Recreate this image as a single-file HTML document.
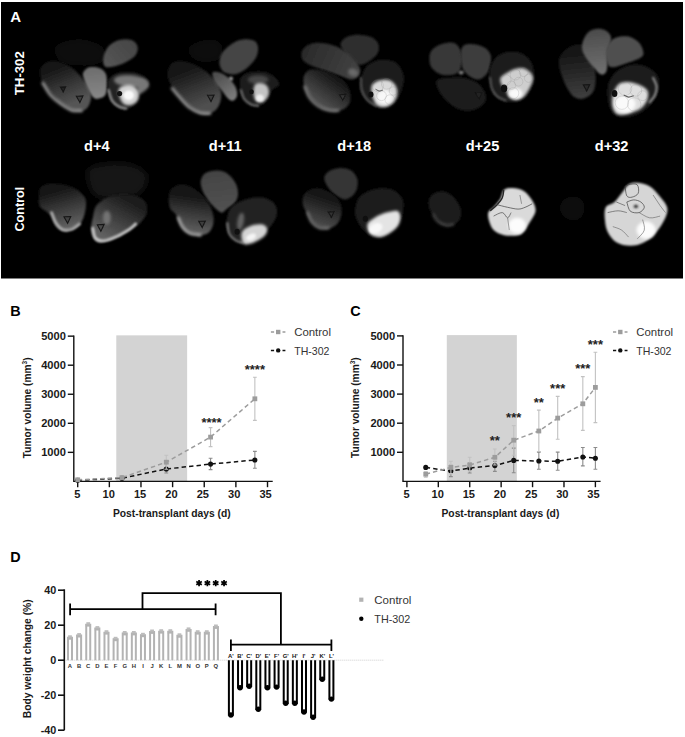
<!DOCTYPE html><html><head><meta charset="utf-8"><title>Figure</title><style>html,body{margin:0;padding:0;background:#fff;width:685px;height:737px;overflow:hidden}svg{display:block;font-family:"Liberation Sans",sans-serif}</style></head><body>
<svg width="685" height="737" viewBox="0 0 685 737">
<rect width="685" height="737" fill="#fff"/>
<rect x="1" y="2" width="682" height="276.5" fill="#000"/>
<defs><filter id="b0" x="-50%" y="-50%" width="200%" height="200%"><feGaussianBlur stdDeviation="0.45"/></filter><filter id="b1" x="-50%" y="-50%" width="200%" height="200%"><feGaussianBlur stdDeviation="0.8"/></filter><filter id="b2" x="-50%" y="-50%" width="200%" height="200%"><feGaussianBlur stdDeviation="1.6"/></filter><filter id="b3" x="-50%" y="-50%" width="200%" height="200%"><feGaussianBlur stdDeviation="3.2"/></filter><linearGradient id="lg1" gradientUnits="userSpaceOnUse" x1="133.1" y1="42.8" x2="108.6" y2="63.8"><stop offset="0" stop-color="#464646"/><stop offset="1" stop-color="#545454"/></linearGradient><linearGradient id="lg2" gradientUnits="userSpaceOnUse" x1="56.0" y1="69.1" x2="70.0" y2="104.1"><stop offset="0" stop-color="#181818"/><stop offset="1" stop-color="#545454"/></linearGradient><linearGradient id="lg3" gradientUnits="userSpaceOnUse" x1="94.6" y1="69.1" x2="96.3" y2="97.1"><stop offset="0" stop-color="#6e6e6e"/><stop offset="1" stop-color="#878787"/></linearGradient><linearGradient id="lg4" gradientUnits="userSpaceOnUse" x1="186.3" y1="70.8" x2="200.3" y2="107.6"><stop offset="0" stop-color="#181818"/><stop offset="1" stop-color="#505050"/></linearGradient><linearGradient id="lg5" gradientUnits="userSpaceOnUse" x1="219.6" y1="74.3" x2="233.6" y2="98.8"><stop offset="0" stop-color="#505050"/><stop offset="1" stop-color="#7d7d7d"/></linearGradient><linearGradient id="lg6" gradientUnits="userSpaceOnUse" x1="307.5" y1="51.5" x2="356.6" y2="74.3"><stop offset="0" stop-color="#2c2c2c"/><stop offset="1" stop-color="#424242"/></linearGradient><linearGradient id="lg7" gradientUnits="userSpaceOnUse" x1="335.6" y1="77.8" x2="316.3" y2="104.1"><stop offset="0" stop-color="#161616"/><stop offset="1" stop-color="#545454"/></linearGradient><linearGradient id="lg8" gradientUnits="userSpaceOnUse" x1="576.0" y1="48.0" x2="581.3" y2="97.1"><stop offset="0" stop-color="#121212"/><stop offset="1" stop-color="#3e3e3e"/></linearGradient><linearGradient id="lg9" gradientUnits="userSpaceOnUse" x1="597.0" y1="30.5" x2="600.6" y2="72.6"><stop offset="0" stop-color="#4c4c4c"/><stop offset="1" stop-color="#707070"/></linearGradient><linearGradient id="lg10" gradientUnits="userSpaceOnUse" x1="52.5" y1="191.5" x2="63.0" y2="228.3"><stop offset="0" stop-color="#161616"/><stop offset="1" stop-color="#606060"/></linearGradient><linearGradient id="lg11" gradientUnits="userSpaceOnUse" x1="126.1" y1="198.5" x2="105.1" y2="237.1"><stop offset="0" stop-color="#1c1c1c"/><stop offset="1" stop-color="#606060"/></linearGradient><linearGradient id="lg12" gradientUnits="userSpaceOnUse" x1="191.5" y1="195.0" x2="186.3" y2="231.8"><stop offset="0" stop-color="#141414"/><stop offset="1" stop-color="#606060"/></linearGradient><linearGradient id="lg13" gradientUnits="userSpaceOnUse" x1="217.8" y1="172.3" x2="223.1" y2="210.8"><stop offset="0" stop-color="#444444"/><stop offset="1" stop-color="#525252"/></linearGradient><linearGradient id="lg14" gradientUnits="userSpaceOnUse" x1="325.0" y1="195.0" x2="314.5" y2="226.6"><stop offset="0" stop-color="#121212"/><stop offset="1" stop-color="#505050"/></linearGradient></defs><g><path d="M56.0 46.3 C58.9 42.5 71.2 39.3 78.8 39.3 C86.4 39.3 97.5 42.8 101.6 46.3 C105.7 49.8 105.7 57.1 103.3 60.3 C101.0 63.5 94.6 65.3 87.6 65.6 C80.6 65.8 66.5 65.3 61.3 62.0 C56.0 58.8 53.1 50.1 56.0 46.3Z" fill="#0e0e0e" filter="url(#b3)"/>
<path d="M103.3 57.7 C103.9 54.3 106.0 49.2 108.6 46.3 C111.2 43.4 115.3 41.2 119.1 40.1 C122.9 39.1 128.3 39.1 131.4 40.1 C134.4 41.2 136.8 43.8 137.5 46.3 C138.2 48.8 137.6 52.4 135.7 55.0 C133.8 57.7 129.8 60.1 126.1 62.0 C122.5 63.9 117.3 65.7 113.8 66.4 C110.3 67.2 106.8 67.9 105.1 66.4 C103.3 65.0 102.7 61.0 103.3 57.7Z" fill="url(#lg1)" filter="url(#b1)"/>
<path d="M40.3 69.1 C41.1 66.9 42.9 64.2 45.5 62.9 C48.1 61.6 52.2 60.7 56.0 61.2 C59.8 61.6 64.5 63.4 68.3 65.6 C72.1 67.7 75.6 70.8 78.8 74.3 C82.0 77.8 85.5 82.8 87.6 86.6 C89.6 90.4 91.1 93.6 91.1 97.1 C91.1 100.6 89.3 105.3 87.6 107.6 C85.8 109.9 83.5 110.8 80.6 111.1 C77.6 111.4 73.5 110.8 70.0 109.3 C66.5 107.9 62.7 105.0 59.5 102.3 C56.3 99.7 53.4 96.5 50.8 93.6 C48.1 90.7 45.5 87.7 43.8 84.8 C42.0 81.9 40.8 78.7 40.3 76.1 C39.7 73.4 39.4 71.2 40.3 69.1Z" fill="url(#lg2)" filter="url(#b1)"/>
<path d="M42.9 83.1 C44.2 85.1 47.7 91.8 50.8 95.3 C53.8 98.8 57.8 101.6 61.3 104.1 C64.8 106.6 68.4 109.1 71.8 110.2 C75.1 111.3 79.8 110.7 81.4 110.7" fill="none" stroke="#969696" stroke-width="3.0" stroke-linecap="round" filter="url(#b2)"/>
<path d="M76.4 96.2 L83.0 95.9 L79.9 102.5 Z" fill="#3c3c3c" stroke="#161616" stroke-width="1.1" filter="url(#b0)"/>
<path d="M60.4 87.1 L65.6 86.9 L63.2 92.1 Z" fill="#242424" stroke="#161616" stroke-width="1.1" filter="url(#b0)"/>
<path d="M83.2 72.6 C84.1 70.5 86.5 68.0 89.3 67.3 C92.1 66.6 97.0 67.0 99.8 68.2 C102.6 69.3 104.8 71.2 106.0 74.3 C107.1 77.4 107.0 83.1 106.8 86.6 C106.7 90.1 106.5 93.3 105.1 95.3 C103.6 97.4 100.1 98.5 98.1 98.8 C96.0 99.1 94.6 98.8 92.8 97.1 C91.1 95.3 89.0 91.2 87.6 88.3 C86.1 85.4 84.8 82.2 84.1 79.6 C83.3 76.9 82.3 74.6 83.2 72.6Z" fill="url(#lg3)" filter="url(#b1)"/>
<path d="M107.7 83.1 C108.0 79.3 109.9 77.8 112.1 76.1 C114.3 74.3 117.3 73.1 120.8 72.6 C124.3 72.0 129.3 72.0 133.1 72.6 C136.9 73.1 141.0 74.6 143.6 76.1 C146.2 77.5 148.3 79.6 148.9 81.3 C149.5 83.1 148.6 85.1 147.1 86.6 C145.7 88.0 141.6 88.0 140.1 90.1 C138.7 92.1 139.5 96.2 138.4 98.8 C137.2 101.5 135.4 104.1 133.1 105.8 C130.8 107.6 127.3 109.3 124.3 109.3 C121.4 109.3 117.9 107.6 115.6 105.8 C113.3 104.1 111.6 102.6 110.3 98.8 C109.0 95.0 107.4 86.9 107.7 83.1Z" fill="#242424" filter="url(#b1)"/>
<ellipse cx="130.5" cy="81.3" rx="16.6" ry="6.1" transform="rotate(5 130.5 81.3)" fill="#787878" filter="url(#b2)"/>
<path d="M108.6 90.1 C109.2 91.8 110.3 97.8 112.1 100.6 C113.8 103.4 116.8 105.4 119.1 106.7 C121.4 108.0 124.9 108.2 126.1 108.5" fill="none" stroke="#8c8c8c" stroke-width="2.5" stroke-linecap="round" filter="url(#b1)"/>
<path d="M138.4 80.4 C139.8 78.4 145.4 80.3 147.1 81.3 C148.9 82.3 149.5 84.8 148.9 86.6 C148.3 88.3 145.4 90.7 143.6 91.8 C141.9 93.0 139.2 95.5 138.4 93.6 C137.5 91.7 136.9 82.5 138.4 80.4Z" fill="#787878" filter="url(#b2)"/>
<path d="M119.1 88.3 C120.2 86.5 123.6 85.5 126.1 85.2 C128.6 84.9 131.9 85.3 134.0 86.6 C136.1 87.8 138.1 90.4 138.7 92.7 C139.3 95.0 138.7 98.5 137.5 100.6 C136.3 102.6 133.7 104.4 131.4 105.0 C129.0 105.5 125.5 105.2 123.5 103.7 C121.5 102.3 120.2 98.8 119.4 96.2 C118.7 93.6 118.0 90.2 119.1 88.3Z" fill="#d2d2d2" filter="url(#b2)"/>
<ellipse cx="128.7" cy="95.3" rx="5.3" ry="4.9" transform="rotate(0 128.7 95.3)" fill="#fafafa" filter="url(#b1)"/>
<ellipse cx="119.6" cy="93.6" rx="2.6" ry="2.6" transform="rotate(0 119.6 93.6)" fill="#121212"/>
<path d="M189.8 46.3 C192.7 43.4 203.8 39.6 209.1 39.3 C214.3 39.0 219.6 41.3 221.3 44.5 C223.1 47.7 222.5 55.6 219.6 58.5 C216.6 61.5 208.5 62.3 203.8 62.0 C199.1 61.8 193.9 59.4 191.5 56.8 C189.2 54.2 186.9 49.2 189.8 46.3Z" fill="#0c0c0c" filter="url(#b3)"/>
<path d="M219.6 60.3 C220.0 57.7 220.7 54.5 223.1 51.5 C225.4 48.6 230.1 44.8 233.6 42.8 C237.1 40.7 240.6 39.6 244.1 39.3 C247.6 39.0 252.3 39.6 254.6 41.0 C256.9 42.5 258.0 45.1 258.1 48.0 C258.3 51.0 257.5 55.0 255.5 58.5 C253.4 62.0 249.2 66.4 245.8 69.1 C242.5 71.7 238.8 73.7 235.3 74.3 C231.8 74.9 227.3 73.7 224.8 72.6 C222.3 71.4 221.3 69.3 220.4 67.3 C219.6 65.3 219.1 62.9 219.6 60.3Z" fill="#444444" filter="url(#b1)"/>
<path d="M167.9 70.8 C168.6 68.3 169.8 64.5 172.3 62.9 C174.7 61.3 179.0 60.9 182.8 61.2 C186.6 61.5 191.0 62.8 195.0 64.7 C199.1 66.6 203.5 69.2 207.3 72.6 C211.1 75.9 215.5 81.0 217.8 84.8 C220.1 88.6 221.3 91.5 221.3 95.3 C221.3 99.1 219.9 104.5 217.8 107.6 C215.8 110.7 212.3 112.9 209.1 113.7 C205.8 114.6 202.0 114.2 198.5 112.9 C195.0 111.5 191.2 108.5 188.0 105.8 C184.8 103.2 181.9 100.3 179.3 97.1 C176.6 93.9 174.2 89.8 172.3 86.6 C170.4 83.4 168.6 80.4 167.9 77.8 C167.2 75.2 167.2 73.3 167.9 70.8Z" fill="url(#lg4)" filter="url(#b1)"/>
<path d="M172.3 88.3 C173.7 90.1 178.1 95.6 181.0 98.8 C183.9 102.0 186.6 105.3 189.8 107.6 C193.0 109.9 196.9 111.9 200.3 112.9 C203.7 113.8 208.3 113.3 209.9 113.4" fill="none" stroke="#969696" stroke-width="3.0" stroke-linecap="round" filter="url(#b2)"/>
<path d="M207.5 95.3 L214.1 95.0 L211.0 101.6 Z" fill="#3c3c3c" stroke="#161616" stroke-width="1.1" filter="url(#b0)"/>
<path d="M212.6 72.6 C213.4 71.1 216.9 71.7 219.6 72.6 C222.2 73.4 225.7 75.5 228.3 77.8 C231.0 80.1 233.9 83.7 235.3 86.6 C236.8 89.5 237.4 93.0 237.1 95.3 C236.8 97.7 235.0 100.0 233.6 100.6 C232.1 101.2 230.4 100.6 228.3 98.8 C226.3 97.1 223.7 93.0 221.3 90.1 C219.0 87.2 215.8 84.2 214.3 81.3 C212.8 78.4 211.7 74.0 212.6 72.6Z" fill="url(#lg5)" filter="url(#b1)"/>
<ellipse cx="231.0" cy="78.7" rx="2.1" ry="2.1" transform="rotate(0 231.0 78.7)" fill="#969696" filter="url(#b1)"/>
<path d="M239.7 81.3 C240.2 78.1 241.6 75.9 244.1 74.3 C246.6 72.7 250.8 72.0 254.6 71.7 C258.4 71.4 263.4 71.5 266.9 72.6 C270.4 73.6 273.6 75.8 275.6 77.8 C277.7 79.9 279.7 82.8 279.1 84.8 C278.5 86.9 273.9 88.0 272.1 90.1 C270.4 92.1 270.1 94.7 268.6 97.1 C267.2 99.4 265.7 102.6 263.4 104.1 C261.0 105.6 257.2 106.1 254.6 105.8 C252.0 105.6 249.8 104.4 247.6 102.3 C245.4 100.3 242.8 97.1 241.5 93.6 C240.2 90.1 239.3 84.5 239.7 81.3Z" fill="#1e1e1e" filter="url(#b1)"/>
<ellipse cx="258.1" cy="79.6" rx="10.5" ry="4.4" transform="rotate(0 258.1 79.6)" fill="#464646" filter="url(#b2)"/>
<path d="M240.9 90.1 C241.5 91.5 242.4 96.4 244.1 98.8 C245.8 101.2 248.8 103.3 251.1 104.4 C253.4 105.6 256.9 105.6 258.1 105.8" fill="none" stroke="#6e6e6e" stroke-width="2.2" stroke-linecap="round" filter="url(#b1)"/>
<path d="M254.6 85.2 C255.8 83.1 258.7 83.0 260.7 83.1 C262.8 83.2 265.5 84.2 266.9 85.7 C268.2 87.2 268.9 89.8 269.0 91.8 C269.0 93.9 268.4 96.2 267.2 98.0 C266.0 99.7 263.8 101.8 262.0 102.3 C260.2 102.9 257.7 102.5 256.4 101.3 C255.0 100.1 254.0 98.0 253.7 95.3 C253.4 92.6 253.4 87.2 254.6 85.2Z" fill="#c3c3c3" filter="url(#b2)"/>
<ellipse cx="259.9" cy="98.0" rx="3.9" ry="3.5" transform="rotate(0 259.9 98.0)" fill="#eeeeee" filter="url(#b1)"/>
<ellipse cx="251.5" cy="91.8" rx="2.3" ry="2.5" transform="rotate(0 251.5 91.8)" fill="#0f0f0f"/>
<path d="M340.8 42.8 C341.7 40.6 344.6 38.0 347.8 36.6 C351.0 35.3 356.0 34.7 360.1 34.9 C364.2 35.0 369.3 35.9 372.3 37.5 C375.4 39.1 377.6 41.9 378.5 44.5 C379.3 47.2 378.9 50.7 377.6 53.3 C376.3 55.9 373.2 58.4 370.6 60.3 C368.0 62.2 364.5 64.2 361.8 64.7 C359.2 65.1 357.2 64.2 354.8 62.9 C352.5 61.6 349.9 59.0 347.8 56.8 C345.8 54.6 343.7 52.1 342.6 49.8 C341.4 47.4 339.9 45.0 340.8 42.8Z" fill="#2e2e2e" filter="url(#b1)"/>
<path d="M301.4 53.3 C301.8 51.0 303.3 48.0 305.8 46.3 C308.2 44.5 312.2 43.1 316.3 42.8 C320.4 42.5 325.9 43.4 330.3 44.5 C334.7 45.7 338.5 47.2 342.6 49.8 C346.6 52.4 351.9 57.1 354.8 60.3 C357.7 63.5 359.5 66.4 360.1 69.1 C360.7 71.7 359.8 74.3 358.3 76.1 C356.9 77.8 354.2 79.6 351.3 79.6 C348.4 79.6 345.2 77.5 340.8 76.1 C336.4 74.6 330.0 72.6 325.0 70.8 C320.1 69.1 314.7 67.3 311.0 65.6 C307.4 63.8 304.7 62.3 303.1 60.3 C301.5 58.3 300.9 55.6 301.4 53.3Z" fill="url(#lg6)" filter="url(#b1)"/>
<ellipse cx="353.1" cy="72.6" rx="5.3" ry="3.9" transform="rotate(20 353.1 72.6)" fill="#696969" filter="url(#b2)"/>
<path d="M304.0 76.1 C304.9 73.6 306.4 71.0 309.3 69.9 C312.2 68.9 317.4 69.2 321.5 69.9 C325.6 70.7 330.0 72.4 333.8 74.3 C337.6 76.2 341.7 78.7 344.3 81.3 C346.9 83.9 348.5 86.9 349.6 90.1 C350.6 93.3 351.0 97.7 350.4 100.6 C349.9 103.5 348.3 105.8 346.1 107.6 C343.9 109.3 340.8 110.8 337.3 111.1 C333.8 111.4 328.8 110.8 325.0 109.3 C321.2 107.9 317.4 105.0 314.5 102.3 C311.6 99.7 309.3 96.5 307.5 93.6 C305.8 90.7 304.6 87.7 304.0 84.8 C303.4 81.9 303.1 78.5 304.0 76.1Z" fill="url(#lg7)" filter="url(#b1)"/>
<path d="M304.9 86.6 C305.6 88.3 307.1 93.9 309.3 97.1 C311.5 100.3 314.8 103.7 318.0 105.8 C321.2 108.0 325.2 109.4 328.5 110.2 C331.9 111.0 336.6 110.7 338.2 110.7" fill="none" stroke="#7d7d7d" stroke-width="2.8" stroke-linecap="round" filter="url(#b2)"/>
<path d="M339.6 94.7 L345.6 94.4 L342.8 100.4 Z" fill="#363636" stroke="#161616" stroke-width="1.1" filter="url(#b0)"/>
<path d="M360.1 84.8 C360.4 81.0 361.8 74.5 363.6 70.8 C365.3 67.2 367.4 64.8 370.6 62.9 C373.8 61.0 378.8 59.6 382.9 59.4 C386.9 59.3 391.9 60.1 395.1 62.0 C398.3 63.9 400.7 67.6 402.1 70.8 C403.6 74.0 404.2 77.5 403.9 81.3 C403.6 85.1 401.8 90.1 400.4 93.6 C398.9 97.1 397.5 100.0 395.1 102.3 C392.8 104.7 389.6 106.9 386.4 107.6 C383.1 108.3 379.1 107.9 375.8 106.7 C372.6 105.6 369.4 102.8 367.1 100.6 C364.7 98.4 363.0 96.2 361.8 93.6 C360.7 91.0 359.8 88.6 360.1 84.8Z" fill="#1c1c1c" filter="url(#b1)"/>
<path d="M361.0 77.8 C361.1 79.9 360.8 86.4 361.8 90.1 C362.9 93.7 364.7 97.1 367.1 99.7 C369.4 102.3 374.4 104.8 375.8 105.8" fill="none" stroke="#555555" stroke-width="2.0" stroke-linecap="round" filter="url(#b1)"/>
<path d="M372.3 84.8 C373.7 82.9 376.4 81.2 379.3 80.4 C382.3 79.7 387.1 79.4 389.9 80.4 C392.6 81.5 394.8 84.1 396.0 86.6 C397.2 89.1 397.3 92.7 396.9 95.3 C396.4 98.0 395.1 100.4 393.4 102.3 C391.6 104.2 389.0 106.1 386.4 106.7 C383.7 107.3 379.8 107.2 377.6 105.8 C375.4 104.5 374.2 101.2 373.2 98.8 C372.2 96.5 371.6 94.2 371.5 91.8 C371.3 89.5 371.0 86.7 372.3 84.8Z" fill="#dadada" filter="url(#b2)"/>
<ellipse cx="384.6" cy="97.1" rx="7.9" ry="7.0" transform="rotate(0 384.6 97.1)" fill="#f8f8f8" filter="url(#b2)"/>
<ellipse cx="370.9" cy="94.5" rx="2.6" ry="3.0" transform="rotate(0 370.9 94.5)" fill="#0f0f0f"/>
<circle cx="377.6" cy="85.7" r="5.8" fill="none" stroke="#8c8c8c" stroke-width="0.7" opacity="0.35" filter="url(#b0)"/>
<circle cx="386.7" cy="83.9" r="5.3" fill="none" stroke="#8c8c8c" stroke-width="0.7" opacity="0.35" filter="url(#b0)"/>
<circle cx="393.4" cy="91.0" r="4.2" fill="none" stroke="#8c8c8c" stroke-width="0.7" opacity="0.35" filter="url(#b0)"/>
<circle cx="381.5" cy="95.7" r="4.9" fill="none" stroke="#8c8c8c" stroke-width="0.7" opacity="0.35" filter="url(#b0)"/>
<circle cx="389.9" cy="99.7" r="4.9" fill="none" stroke="#8c8c8c" stroke-width="0.7" opacity="0.35" filter="url(#b0)"/>
<path d="M375.5 89.2 C376.1 89.5 378.1 90.8 379.3 91.0 C380.6 91.1 382.3 90.2 382.9 90.1" fill="none" stroke="#3c3c3c" stroke-width="1.0" opacity="0.8"/>
<path d="M429.6 55.0 C430.2 52.1 431.8 49.9 434.0 48.0 C436.2 46.1 439.6 44.5 442.8 43.7 C446.0 42.8 450.5 42.0 453.3 42.8 C456.1 43.5 458.0 45.4 459.4 48.0 C460.9 50.7 461.9 55.0 462.0 58.5 C462.2 62.0 461.5 66.4 460.3 69.1 C459.1 71.7 457.7 73.3 455.0 74.3 C452.4 75.3 447.7 75.6 444.5 75.2 C441.3 74.7 438.1 73.3 435.8 71.7 C433.4 70.1 431.5 68.3 430.5 65.6 C429.5 62.8 429.1 58.0 429.6 55.0Z" fill="#383838" filter="url(#b1)"/>
<path d="M461.2 49.8 C461.9 47.2 463.1 45.4 465.6 44.5 C468.0 43.7 472.6 43.8 476.1 44.5 C479.6 45.3 484.1 46.9 486.6 48.9 C489.1 51.0 490.5 53.4 491.0 56.8 C491.4 60.1 490.2 65.8 489.2 69.1 C488.2 72.3 486.7 74.3 484.8 76.1 C482.9 77.8 480.4 79.6 477.8 79.6 C475.2 79.6 471.5 77.8 469.1 76.1 C466.6 74.3 464.2 71.7 462.9 69.1 C461.6 66.4 461.5 63.5 461.2 60.3 C460.9 57.1 460.4 52.4 461.2 49.8Z" fill="#3e3e3e" filter="url(#b1)"/>
<ellipse cx="461.2" cy="72.6" rx="2.6" ry="2.1" transform="rotate(0 461.2 72.6)" fill="#787878" filter="url(#b1)"/>
<path d="M436.6 80.4 C438.0 78.4 441.8 78.3 446.3 77.8 C450.8 77.4 458.5 76.9 463.8 77.8 C469.1 78.7 474.3 80.7 477.8 83.1 C481.3 85.4 483.5 88.9 484.8 91.8 C486.1 94.7 486.6 98.0 485.7 100.6 C484.8 103.2 482.6 105.8 479.6 107.6 C476.5 109.3 471.4 111.1 467.3 111.1 C463.2 111.1 458.8 109.6 455.0 107.6 C451.2 105.6 447.3 101.8 444.5 98.8 C441.8 95.9 439.7 93.1 438.4 90.1 C437.1 87.0 435.3 82.5 436.6 80.4Z" fill="#1a1a1a" filter="url(#b1)"/>
<path d="M475.5 92.8 L481.9 92.5 L478.9 98.9 Z" fill="#242424" stroke="#161616" stroke-width="1.1" filter="url(#b0)"/>
<path d="M489.2 76.1 C488.9 71.1 490.2 67.3 491.8 63.8 C493.4 60.3 495.6 57.1 498.8 55.0 C502.0 53.0 507.0 51.7 511.1 51.5 C515.2 51.4 519.9 52.1 523.4 54.2 C526.9 56.2 530.4 59.9 532.1 63.8 C533.9 67.7 534.2 73.4 533.9 77.8 C533.6 82.2 532.1 86.6 530.4 90.1 C528.6 93.6 526.0 96.8 523.4 98.8 C520.7 100.9 518.1 102.0 514.6 102.3 C511.1 102.6 505.8 102.0 502.3 100.6 C498.8 99.1 495.8 97.7 493.6 93.6 C491.4 89.5 489.5 81.0 489.2 76.1Z" fill="#1c1c1c" filter="url(#b1)"/>
<path d="M490.1 77.8 C490.4 79.6 490.7 85.3 491.8 88.3 C493.0 91.4 494.7 94.2 497.1 96.2 C499.4 98.3 504.4 99.9 505.8 100.6" fill="none" stroke="#5a5a5a" stroke-width="2.0" stroke-linecap="round" filter="url(#b1)"/>
<path d="M500.6 77.8 C501.6 75.8 505.3 74.0 507.6 72.6 C509.9 71.1 512.0 69.8 514.6 69.1 C517.2 68.3 520.7 67.6 523.4 68.2 C526.0 68.8 528.8 70.7 530.4 72.6 C532.0 74.5 533.3 76.6 533.0 79.6 C532.7 82.5 530.2 87.2 528.6 90.1 C527.0 93.0 525.4 95.5 523.4 97.1 C521.3 98.7 518.7 99.7 516.4 99.7 C514.0 99.7 511.1 98.7 509.3 97.1 C507.6 95.5 507.2 92.1 505.8 90.1 C504.5 88.0 502.3 86.9 501.5 84.8 C500.6 82.8 499.6 79.9 500.6 77.8Z" fill="#cecece" filter="url(#b2)"/>
<ellipse cx="515.5" cy="93.6" rx="7.0" ry="5.3" transform="rotate(0 515.5 93.6)" fill="#fafafa" filter="url(#b2)"/>
<ellipse cx="504.1" cy="88.3" rx="3.2" ry="3.9" transform="rotate(0 504.1 88.3)" fill="#0e0e0e"/>
<circle cx="505.8" cy="79.9" r="5.3" fill="none" stroke="#8c8c8c" stroke-width="0.7" opacity="0.35" filter="url(#b0)"/>
<circle cx="515.5" cy="74.7" r="5.3" fill="none" stroke="#8c8c8c" stroke-width="0.7" opacity="0.35" filter="url(#b0)"/>
<circle cx="523.7" cy="72.2" r="4.4" fill="none" stroke="#8c8c8c" stroke-width="0.7" opacity="0.35" filter="url(#b0)"/>
<circle cx="528.6" cy="78.2" r="4.2" fill="none" stroke="#8c8c8c" stroke-width="0.7" opacity="0.35" filter="url(#b0)"/>
<circle cx="511.5" cy="85.2" r="4.2" fill="none" stroke="#8c8c8c" stroke-width="0.7" opacity="0.35" filter="url(#b0)"/>
<circle cx="518.5" cy="81.7" r="4.4" fill="none" stroke="#8c8c8c" stroke-width="0.7" opacity="0.35" filter="url(#b0)"/>
<circle cx="513.2" cy="93.2" r="5.6" fill="none" stroke="#8c8c8c" stroke-width="0.7" opacity="0.35" filter="url(#b0)"/>
<path d="M558.5 62.0 C558.5 58.3 560.0 55.9 562.0 53.3 C564.1 50.7 567.6 47.7 570.8 46.3 C574.0 44.8 578.4 43.9 581.3 44.5 C584.2 45.1 586.4 47.2 588.3 49.8 C590.2 52.4 591.5 56.5 592.7 60.3 C593.8 64.1 594.9 68.5 595.3 72.6 C595.7 76.6 595.9 81.3 595.3 84.8 C594.7 88.3 593.8 91.2 591.8 93.6 C589.7 95.9 586.0 98.3 583.0 98.8 C580.1 99.4 576.9 98.8 574.3 97.1 C571.6 95.3 569.3 91.8 567.3 88.3 C565.2 84.8 563.5 80.4 562.0 76.1 C560.5 71.7 558.5 65.8 558.5 62.0Z" fill="url(#lg8)" filter="url(#b1)"/>
<path d="M583.2 84.8 L589.8 84.5 L586.7 91.1 Z" fill="#2a2a2a" stroke="#161616" stroke-width="1.1" filter="url(#b0)"/>
<path d="M583.0 41.0 C584.1 38.1 586.0 34.3 588.3 32.3 C590.6 30.2 594.1 29.1 597.0 28.8 C600.0 28.5 603.5 29.1 605.8 30.5 C608.1 32.0 610.6 34.0 611.1 37.5 C611.5 41.0 609.0 47.2 608.4 51.5 C607.8 55.9 608.0 60.3 607.6 63.8 C607.1 67.3 607.0 70.8 605.8 72.6 C604.6 74.3 602.6 75.2 600.6 74.3 C598.5 73.4 595.9 69.9 593.5 67.3 C591.2 64.7 588.4 61.5 586.5 58.5 C584.6 55.6 582.7 52.7 582.2 49.8 C581.6 46.9 582.0 43.9 583.0 41.0Z" fill="url(#lg9)" filter="url(#b1)"/>
<path d="M605.8 51.5 C606.1 48.0 607.6 45.1 609.3 42.8 C611.1 40.4 613.1 38.5 616.3 37.5 C619.5 36.5 624.8 35.8 628.6 36.6 C632.4 37.5 636.6 40.0 639.1 42.8 C641.6 45.5 643.5 50.7 643.5 53.3 C643.5 55.9 642.2 56.8 639.1 58.5 C636.0 60.3 629.5 62.3 625.1 63.8 C620.7 65.3 615.7 67.3 612.8 67.3 C609.9 67.3 608.7 66.4 607.6 63.8 C606.4 61.2 605.5 55.0 605.8 51.5Z" fill="#505050" filter="url(#b1)"/>
<path d="M607.6 88.3 C608.0 84.2 609.0 81.0 611.1 77.8 C613.1 74.6 616.3 71.2 619.8 69.1 C623.3 66.9 627.7 65.1 632.1 64.7 C636.5 64.2 642.0 64.8 646.1 66.4 C650.2 68.0 654.4 71.2 656.6 74.3 C658.8 77.4 659.2 81.3 659.2 84.8 C659.2 88.3 658.2 91.8 656.6 95.3 C655.0 98.8 652.8 102.6 649.6 105.8 C646.4 109.1 641.7 112.7 637.3 114.6 C633.0 116.5 627.4 117.5 623.3 117.2 C619.2 116.9 615.3 115.3 612.8 112.9 C610.3 110.4 609.3 106.4 608.4 102.3 C607.6 98.3 607.1 92.4 607.6 88.3Z" fill="#1e1e1e" filter="url(#b1)"/>
<path d="M653.1 77.8 C653.7 79.3 656.3 83.7 656.6 86.6 C656.9 89.5 656.0 92.7 654.9 95.3 C653.7 98.0 650.5 101.2 649.6 102.3" fill="none" stroke="#8c8c8c" stroke-width="2.2" stroke-linecap="round" filter="url(#b1)"/>
<path d="M612.8 95.3 C613.7 91.5 616.0 87.0 618.1 84.8 C620.1 82.6 622.4 82.5 625.1 82.2 C627.7 81.9 630.9 82.3 633.8 83.1 C636.8 83.8 640.3 85.1 642.6 86.6 C644.9 88.0 647.1 89.5 647.9 91.8 C648.6 94.2 648.1 97.8 647.0 100.6 C645.8 103.4 643.6 106.4 640.8 108.5 C638.1 110.5 634.1 111.8 630.3 112.9 C626.5 113.9 621.0 115.5 618.1 114.6 C615.1 113.7 613.7 110.8 612.8 107.6 C611.9 104.4 611.9 99.1 612.8 95.3Z" fill="#dedede" filter="url(#b2)"/>
<ellipse cx="625.1" cy="104.1" rx="10.5" ry="8.8" transform="rotate(0 625.1 104.1)" fill="#fafafa" filter="url(#b2)"/>
<ellipse cx="614.6" cy="93.6" rx="2.8" ry="3.5" transform="rotate(0 614.6 93.6)" fill="#0f0f0f"/>
<circle cx="625.1" cy="88.7" r="6.7" fill="none" stroke="#8c8c8c" stroke-width="0.7" opacity="0.35" filter="url(#b0)"/>
<circle cx="635.9" cy="90.4" r="5.8" fill="none" stroke="#8c8c8c" stroke-width="0.7" opacity="0.35" filter="url(#b0)"/>
<circle cx="642.6" cy="95.7" r="4.9" fill="none" stroke="#8c8c8c" stroke-width="0.7" opacity="0.35" filter="url(#b0)"/>
<circle cx="621.9" cy="102.7" r="6.7" fill="none" stroke="#8c8c8c" stroke-width="0.7" opacity="0.35" filter="url(#b0)"/>
<circle cx="634.2" cy="104.4" r="6.7" fill="none" stroke="#8c8c8c" stroke-width="0.7" opacity="0.35" filter="url(#b0)"/>
<path d="M623.7 95.0 C624.5 95.3 626.9 97.0 628.6 97.1 C630.3 97.2 633.0 95.9 633.8 95.7" fill="none" stroke="#3c3c3c" stroke-width="1.1" opacity="0.8"/>
<path d="M87.6 170.5 C89.9 165.3 101.0 164.4 108.6 163.5 C116.2 162.6 126.7 163.2 133.1 165.3 C139.5 167.3 146.0 171.1 147.1 175.8 C148.3 180.4 145.1 189.5 140.1 193.3 C135.2 197.1 124.9 198.3 117.3 198.5 C109.7 198.8 99.5 199.7 94.6 195.0 C89.6 190.4 85.2 175.8 87.6 170.5Z" fill="#121212" filter="url(#b3)"/>
<path d="M39.4 189.8 C40.4 186.3 42.7 185.5 45.5 184.5 C48.3 183.5 51.9 183.4 56.0 183.7 C60.1 183.9 66.0 184.8 70.0 186.3 C74.1 187.7 77.9 190.1 80.6 192.4 C83.2 194.7 85.1 196.9 85.8 200.3 C86.5 203.7 85.8 208.8 84.9 212.6 C84.1 216.4 82.7 220.3 80.6 223.1 C78.4 225.8 74.7 227.9 71.8 229.2 C68.9 230.5 65.7 231.4 63.0 231.0 C60.4 230.5 58.1 229.1 56.0 226.6 C54.0 224.1 52.5 218.7 50.8 216.1 C49.0 213.4 47.4 212.6 45.5 210.8 C43.6 209.1 40.4 209.1 39.4 205.6 C38.4 202.0 38.4 193.3 39.4 189.8Z" fill="url(#lg10)" filter="url(#b1)"/>
<path d="M51.6 212.6 C52.4 214.3 54.1 220.2 56.0 223.1 C57.9 225.9 60.4 228.7 63.0 229.7 C65.7 230.7 69.0 230.2 71.8 229.2 C74.6 228.2 78.4 224.8 79.7 223.9" fill="none" stroke="#afafaf" stroke-width="2.8" stroke-linecap="round" filter="url(#b1)"/>
<path d="M64.0 216.8 L70.8 216.5 L67.6 223.3 Z" fill="#424242" stroke="#161616" stroke-width="1.1" filter="url(#b0)"/>
<path d="M92.8 217.8 C93.7 213.7 94.0 208.9 96.3 205.6 C98.7 202.2 102.7 199.6 106.8 197.7 C110.9 195.8 115.9 194.5 120.8 194.2 C125.8 193.9 132.5 194.6 136.6 195.9 C140.7 197.2 143.6 199.3 145.4 202.0 C147.1 204.8 148.0 209.1 147.1 212.6 C146.2 216.1 143.0 220.1 140.1 223.1 C137.2 226.0 133.4 227.7 129.6 230.1 C125.8 232.4 122.0 235.0 117.3 237.1 C112.7 239.1 105.4 241.9 101.6 242.3 C97.8 242.8 96.3 241.8 94.6 239.7 C92.8 237.7 91.4 233.7 91.1 230.1 C90.8 226.4 91.9 221.9 92.8 217.8Z" fill="url(#lg11)" filter="url(#b1)"/>
<path d="M92.8 228.3 C93.3 229.9 93.7 235.9 95.4 238.0 C97.2 240.1 99.7 241.2 103.3 240.9 C107.0 240.6 113.0 238.2 117.3 236.2 C121.7 234.3 126.5 231.2 129.6 229.2 C132.7 227.2 134.7 224.8 135.7 223.9" fill="none" stroke="#c8c8c8" stroke-width="2.8" stroke-linecap="round" filter="url(#b1)"/>
<ellipse cx="106.8" cy="217.8" rx="3.9" ry="7.0" transform="rotate(0 106.8 217.8)" fill="#737373" filter="url(#b2)"/>
<path d="M97.3 224.7 L104.1 224.4 L100.9 231.2 Z" fill="#484848" stroke="#161616" stroke-width="1.1" filter="url(#b0)"/>
<path d="M168.8 200.3 C168.8 197.1 168.8 192.4 170.5 189.8 C172.3 187.2 176.1 185.1 179.3 184.5 C182.5 183.9 186.3 184.8 189.8 186.3 C193.3 187.7 197.1 190.4 200.3 193.3 C203.5 196.2 206.9 200.0 209.1 203.8 C211.2 207.6 212.8 212.3 213.4 216.1 C214.0 219.9 213.6 223.7 212.6 226.6 C211.5 229.5 209.9 232.1 207.3 233.6 C204.7 235.0 200.3 235.6 196.8 235.3 C193.3 235.0 189.2 233.9 186.3 231.8 C183.4 229.8 181.0 226.0 179.3 223.1 C177.5 220.1 177.2 216.6 175.8 214.3 C174.3 212.0 171.7 211.4 170.5 209.1 C169.3 206.7 168.8 203.5 168.8 200.3Z" fill="url(#lg12)" filter="url(#b1)"/>
<path d="M178.4 217.8 C179.1 219.4 180.9 224.9 182.8 227.4 C184.7 230.0 186.9 232.0 189.8 233.2 C192.7 234.5 198.5 234.7 200.3 235.0" fill="none" stroke="#aaaaaa" stroke-width="2.8" stroke-linecap="round" filter="url(#b2)"/>
<path d="M198.7 221.3 L205.3 221.0 L202.2 227.6 Z" fill="#3c3c3c" stroke="#161616" stroke-width="1.1" filter="url(#b0)"/>
<path d="M201.2 179.3 C201.9 177.1 203.1 174.6 205.6 173.1 C208.0 171.7 212.6 170.5 216.1 170.5 C219.6 170.5 223.4 171.1 226.6 173.1 C229.8 175.2 233.4 179.4 235.3 182.8 C237.2 186.1 238.0 190.1 238.0 193.3 C238.0 196.5 237.2 199.4 235.3 202.0 C233.4 204.7 228.9 207.3 226.6 209.1 C224.2 210.8 223.7 213.1 221.3 212.6 C219.0 212.0 215.3 208.5 212.6 205.6 C209.8 202.6 206.6 198.3 204.7 195.0 C202.8 191.8 201.8 188.9 201.2 186.3 C200.6 183.7 200.4 181.5 201.2 179.3Z" fill="url(#lg13)" filter="url(#b1)"/>
<path d="M226.6 221.3 C227.0 217.8 228.0 212.3 230.1 209.1 C232.1 205.8 235.0 203.9 238.8 202.0 C242.6 200.1 248.2 198.3 252.9 197.7 C257.5 197.1 263.1 197.2 266.9 198.5 C270.7 199.9 274.0 202.6 275.6 205.6 C277.2 208.5 277.4 212.6 276.5 216.1 C275.6 219.6 272.6 223.7 270.4 226.6 C268.2 229.5 266.3 231.2 263.4 233.6 C260.4 235.9 256.4 239.0 252.9 240.6 C249.3 242.2 245.6 243.5 242.3 243.2 C239.1 242.9 236.1 241.0 233.6 238.8 C231.1 236.6 228.6 233.0 227.4 230.1 C226.3 227.2 226.1 224.8 226.6 221.3Z" fill="#242424" filter="url(#b1)"/>
<path d="M227.4 223.1 C227.7 224.8 227.9 230.7 229.2 233.6 C230.5 236.4 233.1 238.7 235.3 240.2 C237.5 241.8 241.2 242.3 242.3 242.7" fill="none" stroke="#787878" stroke-width="2.2" stroke-linecap="round" filter="url(#b1)"/>
<ellipse cx="240.6" cy="221.3" rx="3.2" ry="8.8" transform="rotate(10 240.6 221.3)" fill="#646464" filter="url(#b2)"/>
<path d="M241.5 233.6 C241.9 231.1 243.7 229.8 245.8 228.3 C248.0 226.9 251.7 225.4 254.6 224.8 C257.5 224.2 261.3 224.1 263.4 224.8 C265.5 225.6 266.9 227.4 267.2 229.2 C267.5 231.0 266.6 233.4 265.1 235.3 C263.6 237.2 260.7 239.1 258.1 240.6 C255.5 242.0 251.8 243.7 249.3 244.1 C246.9 244.5 244.5 245.0 243.2 243.2 C241.9 241.5 241.0 236.1 241.5 233.6Z" fill="#d4d4d4" filter="url(#b2)"/>
<ellipse cx="251.1" cy="237.1" rx="5.3" ry="3.2" transform="rotate(-25 251.1 237.1)" fill="#f5f5f5" filter="url(#b1)"/>
<ellipse cx="237.1" cy="231.8" rx="2.6" ry="3.0" transform="rotate(0 237.1 231.8)" fill="#101010"/>
<path d="M324.2 177.5 C324.5 174.6 327.5 172.1 330.3 170.5 C333.1 168.9 337.3 167.9 340.8 167.9 C344.3 167.9 348.5 168.6 351.3 170.5 C354.1 172.4 356.6 176.1 357.4 179.3 C358.3 182.5 357.6 186.9 356.6 189.8 C355.6 192.7 353.4 195.2 351.3 196.8 C349.3 198.4 346.9 199.7 344.3 199.4 C341.7 199.1 338.2 196.9 335.6 195.0 C332.9 193.1 330.4 191.0 328.5 188.0 C326.6 185.1 323.9 180.4 324.2 177.5Z" fill="#343434" filter="url(#b1)"/>
<path d="M303.1 196.8 C303.9 194.3 305.0 192.1 307.5 190.7 C310.0 189.2 314.2 187.7 318.0 188.0 C321.8 188.3 326.8 190.4 330.3 192.4 C333.8 194.5 337.2 197.2 339.1 200.3 C341.0 203.4 341.7 207.3 341.7 210.8 C341.7 214.3 340.7 218.5 339.1 221.3 C337.4 224.1 335.0 226.3 332.0 227.4 C329.1 228.6 324.7 229.1 321.5 228.3 C318.3 227.6 315.1 225.4 312.8 223.1 C310.4 220.7 309.1 217.2 307.5 214.3 C305.9 211.4 303.9 208.5 303.1 205.6 C302.4 202.6 302.4 199.3 303.1 196.8Z" fill="url(#lg14)" filter="url(#b1)"/>
<path d="M307.5 212.6 C308.2 214.2 309.9 219.6 311.9 222.2 C313.9 224.8 317.0 227.0 319.8 228.0 C322.6 228.9 327.1 228.0 328.5 228.0" fill="none" stroke="#787878" stroke-width="2.5" stroke-linecap="round" filter="url(#b2)"/>
<path d="M328.3 212.0 L334.1 211.7 L331.4 217.5 Z" fill="#303030" stroke="#161616" stroke-width="1.1" filter="url(#b0)"/>
<path d="M354.8 210.8 C355.1 207.3 356.3 201.8 358.3 198.5 C360.4 195.3 363.3 193.3 367.1 191.5 C370.9 189.8 376.4 188.2 381.1 188.0 C385.8 187.9 391.5 188.6 395.1 190.7 C398.8 192.7 401.7 196.6 403.0 200.3 C404.3 203.9 403.6 209.1 403.0 212.6 C402.4 216.1 401.4 218.1 399.5 221.3 C397.6 224.5 394.7 229.2 391.6 231.8 C388.5 234.5 384.6 236.4 381.1 237.1 C377.6 237.8 373.8 237.7 370.6 236.2 C367.4 234.7 364.2 231.1 361.8 228.3 C359.5 225.6 357.7 222.5 356.6 219.6 C355.4 216.6 354.5 214.3 354.8 210.8Z" fill="#1a1a1a" filter="url(#b1)"/>
<path d="M368.0 223.1 C369.3 220.9 372.8 218.7 375.8 216.9 C378.9 215.2 382.9 213.6 386.4 212.6 C389.9 211.5 394.5 210.2 396.9 210.8 C399.2 211.4 400.1 213.7 400.4 216.1 C400.7 218.4 400.1 222.2 398.6 224.8 C397.2 227.4 394.5 229.8 391.6 231.8 C388.7 233.9 384.3 236.5 381.1 237.1 C377.9 237.7 374.5 236.5 372.3 235.3 C370.2 234.2 368.7 232.1 368.0 230.1 C367.2 228.0 366.6 225.3 368.0 223.1Z" fill="#e4e4e4" filter="url(#b2)"/>
<ellipse cx="375.8" cy="228.3" rx="7.0" ry="4.9" transform="rotate(-25 375.8 228.3)" fill="#f8f8f8" filter="url(#b1)"/>
<ellipse cx="365.3" cy="218.7" rx="2.6" ry="3.0" transform="rotate(0 365.3 218.7)" fill="#0f0f0f"/>
<path d="M428.8 200.3 C429.5 197.7 431.4 194.7 434.0 193.3 C436.6 191.8 441.3 191.0 444.5 191.5 C447.7 192.1 450.8 194.5 453.3 196.8 C455.8 199.1 458.1 202.6 459.4 205.6 C460.7 208.5 461.5 211.5 461.2 214.3 C460.9 217.1 459.6 220.3 457.7 222.2 C455.8 224.1 452.6 225.4 449.8 225.7 C447.0 226.0 443.7 225.6 441.0 223.9 C438.4 222.3 435.9 218.5 434.0 216.1 C432.1 213.6 430.5 211.7 429.6 209.1 C428.8 206.4 428.0 202.9 428.8 200.3Z" fill="#1e1e1e" filter="url(#b1)"/>
<path d="M433.1 214.3 C433.9 215.5 435.3 219.5 437.5 221.3 C439.7 223.2 443.7 224.8 446.3 225.3 C448.9 225.9 452.1 224.6 453.3 224.5" fill="none" stroke="#555555" stroke-width="2" stroke-linecap="round" filter="url(#b2)"/>
<path d="M488.3 212.6 C489.1 210.2 491.5 209.6 493.6 207.3 C495.6 205.0 498.8 201.5 500.6 198.5 C502.3 195.6 502.0 191.5 504.1 189.8 C506.1 188.0 509.6 187.9 512.9 188.0 C516.1 188.2 520.2 188.6 523.4 190.7 C526.6 192.7 530.1 196.9 532.1 200.3 C534.2 203.7 535.9 207.3 535.6 210.8 C535.3 214.3 532.4 217.8 530.4 221.3 C528.3 224.8 525.4 229.5 523.4 231.8 C521.3 234.2 521.3 234.7 518.1 235.3 C514.9 235.9 508.2 236.2 504.1 235.3 C500.0 234.5 496.1 232.4 493.6 230.1 C491.1 227.7 490.1 224.2 489.2 221.3 C488.3 218.4 487.6 214.9 488.3 212.6Z" fill="#dadada" filter="url(#b1)"/>
<ellipse cx="517.2" cy="225.7" rx="8.8" ry="7.9" transform="rotate(0 517.2 225.7)" fill="#fcfcfc" filter="url(#b2)"/>
<path d="M503.7 190.1 C503.5 191.4 503.5 195.2 502.3 197.7 C501.2 200.1 499.1 202.5 497.1 204.7 C495.0 206.9 491.2 209.8 490.1 210.8" fill="none" stroke="#282828" stroke-width="1.4"/>
<path d="M497.1 204.7 C498.8 205.1 504.1 206.6 507.6 207.3 C511.1 208.0 515.2 209.1 518.1 209.1 C521.0 209.1 522.8 208.2 525.1 207.3 C527.5 206.4 531.0 204.4 532.1 203.8" fill="none" stroke="#464646" stroke-width="0.9" opacity="0.8"/>
<path d="M493.6 216.1 C495.0 215.5 500.0 212.3 502.3 212.6 C504.7 212.8 506.1 217.8 507.6 217.8 C509.1 217.8 510.5 213.4 511.1 212.6" fill="none" stroke="#505050" stroke-width="0.9" opacity="0.8"/>
<path d="M507.6 217.8 L509.3 230.1" fill="none" stroke="#5a5a5a" stroke-width="0.8" opacity="0.7"/>
<path d="M519.9 195.0 L521.6 203.8" fill="none" stroke="#5a5a5a" stroke-width="0.8" opacity="0.7"/>
<path d="M560.3 205.6 C560.8 202.9 562.9 200.0 565.5 198.5 C568.1 197.1 573.1 196.2 576.0 196.8 C578.9 197.4 581.7 199.4 583.0 202.0 C584.3 204.7 584.8 209.6 583.9 212.6 C583.0 215.5 580.3 218.4 577.8 219.6 C575.3 220.7 571.6 220.4 569.0 219.6 C566.4 218.7 563.5 216.6 562.0 214.3 C560.5 212.0 559.7 208.2 560.3 205.6Z" fill="#0e0e0e" filter="url(#b2)"/>
<path d="M605.8 207.3 C607.4 204.4 611.9 204.4 614.6 202.0 C617.2 199.7 619.2 196.2 621.6 193.3 C623.9 190.4 626.0 186.3 628.6 184.5 C631.2 182.8 633.8 182.5 637.3 182.8 C640.8 183.1 645.8 183.9 649.6 186.3 C653.4 188.6 657.2 193.3 660.1 196.8 C663.0 200.3 666.2 203.8 667.1 207.3 C668.0 210.8 667.1 213.7 665.4 217.8 C663.6 221.9 660.1 227.7 656.6 231.8 C653.1 235.9 648.7 240.0 644.3 242.3 C640.0 244.7 635.0 245.8 630.3 245.8 C625.7 245.8 620.1 244.7 616.3 242.3 C612.5 240.0 609.5 235.6 607.6 231.8 C605.7 228.0 605.2 223.7 604.9 219.6 C604.6 215.5 604.2 210.2 605.8 207.3Z" fill="#d6d6d6" filter="url(#b1)"/>
<ellipse cx="646.1" cy="230.1" rx="9.6" ry="8.8" transform="rotate(0 646.1 230.1)" fill="#fcfcfc" filter="url(#b2)"/>
<path d="M625.1 186.3 C626.0 185.9 628.3 184.4 630.3 184.2 C632.4 183.9 636.0 183.4 637.3 184.9 C638.7 186.4 639.1 191.2 638.2 193.3 C637.3 195.3 634.0 196.7 632.1 197.1 C630.2 197.6 628.0 197.7 626.8 195.9 C625.7 194.1 625.4 187.9 625.1 186.3" fill="none" stroke="#464646" stroke-width="0.9" opacity="0.8"/>
<path d="M626.8 202.0 C628.0 201.7 631.5 199.9 633.8 199.9 C636.2 199.9 639.1 200.8 640.8 202.0 C642.6 203.3 644.6 205.6 644.3 207.3 C644.1 209.1 641.4 211.9 639.1 212.6 C636.8 213.2 632.4 212.9 630.3 211.2 C628.3 209.4 627.4 203.6 626.8 202.0" fill="none" stroke="#464646" stroke-width="0.9" opacity="0.8"/>
<ellipse cx="635.9" cy="206.4" rx="2.1" ry="1.6" transform="rotate(0 635.9 206.4)" fill="#282828" filter="url(#b1)"/>
<path d="M616.3 202.0 L625.1 205.6" fill="none" stroke="#505050" stroke-width="0.8" opacity="0.8"/>
<path d="M607.6 212.6 C609.3 212.3 614.9 210.8 618.1 210.8 C621.3 210.8 625.4 212.3 626.8 212.6" fill="none" stroke="#505050" stroke-width="0.8" opacity="0.8"/>
<path d="M639.1 212.6 C640.8 213.4 646.1 217.2 649.6 217.8 C653.1 218.4 658.4 216.4 660.1 216.1" fill="none" stroke="#5a5a5a" stroke-width="0.8" opacity="0.7"/>
<path d="M612.8 226.6 C614.3 227.2 618.9 228.3 621.6 230.1 C624.2 231.8 627.4 235.9 628.6 237.1" fill="none" stroke="#5a5a5a" stroke-width="0.8" opacity="0.7"/>
<path d="M642.6 219.6 C642.9 221.3 645.2 226.9 644.3 230.1 C643.5 233.3 638.5 237.4 637.3 238.8" fill="none" stroke="#5a5a5a" stroke-width="0.8" opacity="0.7"/>
<path d="M653.1 195.0 C654.3 196.8 658.1 202.6 660.1 205.6 C662.2 208.5 664.5 211.4 665.4 212.6" fill="none" stroke="#5a5a5a" stroke-width="0.8" opacity="0.7"/></g>
<text x="10.30" y="22.20" font-size="15" font-weight="bold" fill="#fff" text-anchor="start" >A</text>
<text x="96.80" y="151.00" font-size="14.6" font-weight="bold" fill="#fff" text-anchor="middle" >d+4</text>
<text x="225.20" y="151.00" font-size="14.6" font-weight="bold" fill="#fff" text-anchor="middle" >d+11</text>
<text x="354.20" y="151.00" font-size="14.6" font-weight="bold" fill="#fff" text-anchor="middle" >d+18</text>
<text x="482.50" y="151.00" font-size="14.6" font-weight="bold" fill="#fff" text-anchor="middle" >d+25</text>
<text x="611.60" y="151.00" font-size="14.6" font-weight="bold" fill="#fff" text-anchor="middle" >d+32</text>
<text transform="translate(23.6,95.2) rotate(-90)" font-size="13.2" font-weight="bold" fill="#fff">TH-302</text>
<text transform="translate(23.6,231.5) rotate(-90)" font-size="12.6" font-weight="bold" fill="#fff">Control</text>
<text x="10.20" y="316.00" font-size="14.4" font-weight="bold" fill="#000" text-anchor="start" >B</text>
<rect x="116.29" y="335.35" width="70.86" height="146.05" fill="#d3d3d3"/>
<path d="M73.80 335.55V481.40H272.71" fill="none" stroke="#111" stroke-width="1.4"/>
<path d="M67.80 452.35H73.80" stroke="#111" stroke-width="1.4"/>
<text x="65.90" y="456.25" font-size="11.1" font-weight="bold" fill="#1a1a1a" text-anchor="end" >1000</text>
<path d="M67.80 423.30H73.80" stroke="#111" stroke-width="1.4"/>
<text x="65.90" y="427.20" font-size="11.1" font-weight="bold" fill="#1a1a1a" text-anchor="end" >2000</text>
<path d="M67.80 394.25H73.80" stroke="#111" stroke-width="1.4"/>
<text x="65.90" y="398.15" font-size="11.1" font-weight="bold" fill="#1a1a1a" text-anchor="end" >3000</text>
<path d="M67.80 365.20H73.80" stroke="#111" stroke-width="1.4"/>
<text x="65.90" y="369.10" font-size="11.1" font-weight="bold" fill="#1a1a1a" text-anchor="end" >4000</text>
<path d="M67.80 336.15H73.80" stroke="#111" stroke-width="1.4"/>
<text x="65.90" y="340.05" font-size="11.1" font-weight="bold" fill="#1a1a1a" text-anchor="end" >5000</text>
<path d="M77.70 481.40V487.20" stroke="#111" stroke-width="1.4"/>
<text x="77.30" y="498.30" font-size="11.1" font-weight="bold" fill="#1a1a1a" text-anchor="middle" >5</text>
<path d="M109.34 481.40V487.20" stroke="#111" stroke-width="1.4"/>
<text x="108.69" y="498.30" font-size="11.1" font-weight="bold" fill="#1a1a1a" text-anchor="middle" >10</text>
<path d="M140.97 481.40V487.20" stroke="#111" stroke-width="1.4"/>
<text x="140.07" y="498.30" font-size="11.1" font-weight="bold" fill="#1a1a1a" text-anchor="middle" >15</text>
<path d="M172.61 481.40V487.20" stroke="#111" stroke-width="1.4"/>
<text x="171.46" y="498.30" font-size="11.1" font-weight="bold" fill="#1a1a1a" text-anchor="middle" >20</text>
<path d="M204.24 481.40V487.20" stroke="#111" stroke-width="1.4"/>
<text x="202.84" y="498.30" font-size="11.1" font-weight="bold" fill="#1a1a1a" text-anchor="middle" >25</text>
<path d="M235.88 481.40V487.20" stroke="#111" stroke-width="1.4"/>
<text x="234.22" y="498.30" font-size="11.1" font-weight="bold" fill="#1a1a1a" text-anchor="middle" >30</text>
<path d="M267.51 481.40V487.20" stroke="#111" stroke-width="1.4"/>
<text x="265.61" y="498.30" font-size="11.1" font-weight="bold" fill="#1a1a1a" text-anchor="middle" >35</text>
<text x="171.85" y="516.60" font-size="10.3" font-weight="bold" fill="#1a1a1a" text-anchor="middle" >Post-transplant days (d)</text>
<text transform="translate(30.80,407.77) rotate(-90)" font-size="10.2" font-weight="bold" fill="#1a1a1a" text-anchor="middle">Tumor volume (mm<tspan font-size="6.5" dy="-4">3</tspan><tspan dy="4">)</tspan></text>
<path d="M77.70 480.30 L121.99 478.20 L166.28 469.00 L210.57 464.10 L254.86 460.00" fill="none" stroke="#111" stroke-width="1.5" stroke-dasharray="4.4 3.1"/>
<circle cx="77.70" cy="480.30" r="2.55" fill="#111"/>
<circle cx="121.99" cy="478.20" r="2.55" fill="#111"/>
<path d="M166.28 463.50V473.00M164.38 463.50H168.18M164.38 473.00H168.18" stroke="#8c8c8c" stroke-width="1.1" fill="none"/>
<circle cx="166.28" cy="469.00" r="2.55" fill="#111"/>
<path d="M210.57 458.20V469.60M208.67 458.20H212.47M208.67 469.60H212.47" stroke="#8c8c8c" stroke-width="1.1" fill="none"/>
<circle cx="210.57" cy="464.10" r="2.55" fill="#111"/>
<path d="M254.86 451.40V468.20M252.96 451.40H256.76M252.96 468.20H256.76" stroke="#8c8c8c" stroke-width="1.1" fill="none"/>
<circle cx="254.86" cy="460.00" r="2.55" fill="#111"/>
<path d="M77.70 479.80 L121.99 477.60 L166.28 462.20 L210.57 437.10 L254.86 398.80" fill="none" stroke="#9c9c9c" stroke-width="1.5" stroke-dasharray="4.4 3.1"/>
<rect x="75.30" y="477.40" width="4.8" height="4.8" fill="#9c9c9c"/>
<rect x="119.59" y="475.20" width="4.8" height="4.8" fill="#9c9c9c"/>
<path d="M166.28 455.20V469.30M164.38 455.20H168.18M164.38 469.30H168.18" stroke="#c2c2c2" stroke-width="1.1" fill="none"/>
<rect x="163.88" y="459.80" width="4.8" height="4.8" fill="#9c9c9c"/>
<path d="M210.57 427.60V446.60M208.67 427.60H212.47M208.67 446.60H212.47" stroke="#c2c2c2" stroke-width="1.1" fill="none"/>
<rect x="208.17" y="434.70" width="4.8" height="4.8" fill="#9c9c9c"/>
<path d="M254.86 377.30V420.40M252.96 377.30H256.76M252.96 420.40H256.76" stroke="#c2c2c2" stroke-width="1.1" fill="none"/>
<rect x="252.46" y="396.40" width="4.8" height="4.8" fill="#9c9c9c"/>
<text x="211.52" y="426.90" font-size="13" font-weight="bold" fill="#222" text-anchor="middle" >****</text>
<text x="254.86" y="373.90" font-size="13" font-weight="bold" fill="#222" text-anchor="middle" >****</text>
<path d="M270.90 332H285.40" stroke="#9c9c9c" stroke-width="1.5" stroke-dasharray="3.2 2.6"/>
<rect x="276.00" y="329.8" width="4.4" height="4.4" fill="#9c9c9c"/>
<path d="M270.90 350.4H285.40" stroke="#111" stroke-width="1.5" stroke-dasharray="3.2 2.6"/>
<circle cx="278.20" cy="350.4" r="2.2" fill="#111"/>
<text x="294.20" y="336.20" font-size="11.4" font-weight="normal" fill="#333" text-anchor="start" >Control</text>
<text x="294.20" y="354.60" font-size="11.4" font-weight="normal" fill="#333" text-anchor="start" textLength="35.2" lengthAdjust="spacingAndGlyphs">TH-302</text>
<text x="350.20" y="316.00" font-size="14.4" font-weight="bold" fill="#000" text-anchor="start" >C</text>
<rect x="446.80" y="335.10" width="70.06" height="146.30" fill="#d3d3d3"/>
<path d="M403.00 335.30V481.40H600.59" fill="none" stroke="#111" stroke-width="1.4"/>
<path d="M397.00 452.30H403.00" stroke="#111" stroke-width="1.4"/>
<text x="395.10" y="456.20" font-size="11.1" font-weight="bold" fill="#1a1a1a" text-anchor="end" >1000</text>
<path d="M397.00 423.20H403.00" stroke="#111" stroke-width="1.4"/>
<text x="395.10" y="427.10" font-size="11.1" font-weight="bold" fill="#1a1a1a" text-anchor="end" >2000</text>
<path d="M397.00 394.10H403.00" stroke="#111" stroke-width="1.4"/>
<text x="395.10" y="398.00" font-size="11.1" font-weight="bold" fill="#1a1a1a" text-anchor="end" >3000</text>
<path d="M397.00 365.00H403.00" stroke="#111" stroke-width="1.4"/>
<text x="395.10" y="368.90" font-size="11.1" font-weight="bold" fill="#1a1a1a" text-anchor="end" >4000</text>
<path d="M397.00 335.90H403.00" stroke="#111" stroke-width="1.4"/>
<text x="395.10" y="339.80" font-size="11.1" font-weight="bold" fill="#1a1a1a" text-anchor="end" >5000</text>
<path d="M406.90 481.40V487.20" stroke="#111" stroke-width="1.4"/>
<text x="406.50" y="498.30" font-size="11.1" font-weight="bold" fill="#1a1a1a" text-anchor="middle" >5</text>
<path d="M438.31 481.40V487.20" stroke="#111" stroke-width="1.4"/>
<text x="437.67" y="498.30" font-size="11.1" font-weight="bold" fill="#1a1a1a" text-anchor="middle" >10</text>
<path d="M469.73 481.40V487.20" stroke="#111" stroke-width="1.4"/>
<text x="468.83" y="498.30" font-size="11.1" font-weight="bold" fill="#1a1a1a" text-anchor="middle" >15</text>
<path d="M501.14 481.40V487.20" stroke="#111" stroke-width="1.4"/>
<text x="500.00" y="498.30" font-size="11.1" font-weight="bold" fill="#1a1a1a" text-anchor="middle" >20</text>
<path d="M532.56 481.40V487.20" stroke="#111" stroke-width="1.4"/>
<text x="531.16" y="498.30" font-size="11.1" font-weight="bold" fill="#1a1a1a" text-anchor="middle" >25</text>
<path d="M563.98 481.40V487.20" stroke="#111" stroke-width="1.4"/>
<text x="562.33" y="498.30" font-size="11.1" font-weight="bold" fill="#1a1a1a" text-anchor="middle" >30</text>
<path d="M595.39 481.40V487.20" stroke="#111" stroke-width="1.4"/>
<text x="593.49" y="498.30" font-size="11.1" font-weight="bold" fill="#1a1a1a" text-anchor="middle" >35</text>
<text x="500.40" y="516.60" font-size="10.3" font-weight="bold" fill="#1a1a1a" text-anchor="middle" >Post-transplant days (d)</text>
<text transform="translate(358.70,407.65) rotate(-90)" font-size="10.2" font-weight="bold" fill="#1a1a1a" text-anchor="middle">Tumor volume (mm<tspan font-size="6.5" dy="-4">3</tspan><tspan dy="4">)</tspan></text>
<path d="M425.75 467.40 L450.88 471.10 L469.73 468.00 L494.86 465.60 L513.71 460.40 L538.84 461.00 L557.69 461.30 L582.82 457.00 L595.39 458.20" fill="none" stroke="#111" stroke-width="1.5" stroke-dasharray="4.4 3.1"/>
<circle cx="425.75" cy="467.40" r="2.55" fill="#111"/>
<path d="M450.88 465.30V476.60M448.98 465.30H452.78M448.98 476.60H452.78" stroke="#8c8c8c" stroke-width="1.1" fill="none"/>
<circle cx="450.88" cy="471.10" r="2.55" fill="#111"/>
<path d="M469.73 463.00V473.00M467.83 463.00H471.63M467.83 473.00H471.63" stroke="#8c8c8c" stroke-width="1.1" fill="none"/>
<circle cx="469.73" cy="468.00" r="2.55" fill="#111"/>
<path d="M494.86 461.30V471.40M492.96 461.30H496.76M492.96 471.40H496.76" stroke="#8c8c8c" stroke-width="1.1" fill="none"/>
<circle cx="494.86" cy="465.60" r="2.55" fill="#111"/>
<path d="M513.71 448.10V472.70M511.81 448.10H515.61M511.81 472.70H515.61" stroke="#8c8c8c" stroke-width="1.1" fill="none"/>
<circle cx="513.71" cy="460.40" r="2.55" fill="#111"/>
<path d="M538.84 452.10V469.30M536.94 452.10H540.74M536.94 469.30H540.74" stroke="#8c8c8c" stroke-width="1.1" fill="none"/>
<circle cx="538.84" cy="461.00" r="2.55" fill="#111"/>
<path d="M557.69 452.10V470.20M555.79 452.10H559.59M555.79 470.20H559.59" stroke="#8c8c8c" stroke-width="1.1" fill="none"/>
<circle cx="557.69" cy="461.30" r="2.55" fill="#111"/>
<path d="M582.82 447.50V465.90M580.92 447.50H584.72M580.92 465.90H584.72" stroke="#8c8c8c" stroke-width="1.1" fill="none"/>
<circle cx="582.82" cy="457.00" r="2.55" fill="#111"/>
<path d="M595.39 447.50V469.30M593.49 447.50H597.29M593.49 469.30H597.29" stroke="#8c8c8c" stroke-width="1.1" fill="none"/>
<circle cx="595.39" cy="458.20" r="2.55" fill="#111"/>
<path d="M425.75 474.20 L450.88 467.40 L469.73 465.00 L494.86 457.30 L513.71 440.20 L538.84 431.00 L557.69 418.10 L582.82 403.80 L595.39 387.40" fill="none" stroke="#9c9c9c" stroke-width="1.5" stroke-dasharray="4.4 3.1"/>
<path d="M425.75 471.70V477.30M423.85 471.70H427.65M423.85 477.30H427.65" stroke="#c2c2c2" stroke-width="1.1" fill="none"/>
<rect x="423.35" y="471.80" width="4.8" height="4.8" fill="#9c9c9c"/>
<path d="M450.88 461.30V473.60M448.98 461.30H452.78M448.98 473.60H452.78" stroke="#c2c2c2" stroke-width="1.1" fill="none"/>
<rect x="448.48" y="465.00" width="4.8" height="4.8" fill="#9c9c9c"/>
<path d="M469.73 457.30V471.10M467.83 457.30H471.63M467.83 471.10H471.63" stroke="#c2c2c2" stroke-width="1.1" fill="none"/>
<rect x="467.33" y="462.60" width="4.8" height="4.8" fill="#9c9c9c"/>
<path d="M494.86 449.00V465.00M492.96 449.00H496.76M492.96 465.00H496.76" stroke="#c2c2c2" stroke-width="1.1" fill="none"/>
<rect x="492.46" y="454.90" width="4.8" height="4.8" fill="#9c9c9c"/>
<path d="M513.71 425.60V455.20M511.81 425.60H515.61M511.81 455.20H515.61" stroke="#c2c2c2" stroke-width="1.1" fill="none"/>
<rect x="511.31" y="437.80" width="4.8" height="4.8" fill="#9c9c9c"/>
<path d="M538.84 410.10V451.50M536.94 410.10H540.74M536.94 451.50H540.74" stroke="#c2c2c2" stroke-width="1.1" fill="none"/>
<rect x="536.44" y="428.60" width="4.8" height="4.8" fill="#9c9c9c"/>
<path d="M557.69 396.40V439.20M555.79 396.40H559.59M555.79 439.20H559.59" stroke="#c2c2c2" stroke-width="1.1" fill="none"/>
<rect x="555.29" y="415.70" width="4.8" height="4.8" fill="#9c9c9c"/>
<path d="M582.82 376.60V430.40M580.92 376.60H584.72M580.92 430.40H584.72" stroke="#c2c2c2" stroke-width="1.1" fill="none"/>
<rect x="580.42" y="401.40" width="4.8" height="4.8" fill="#9c9c9c"/>
<path d="M595.39 352.30V422.60M593.49 352.30H597.29M593.49 422.60H597.29" stroke="#c2c2c2" stroke-width="1.1" fill="none"/>
<rect x="592.99" y="385.00" width="4.8" height="4.8" fill="#9c9c9c"/>
<text x="494.86" y="445.00" font-size="13" font-weight="bold" fill="#222" text-anchor="middle" >**</text>
<text x="513.71" y="422.00" font-size="13" font-weight="bold" fill="#222" text-anchor="middle" >***</text>
<text x="538.84" y="406.50" font-size="13" font-weight="bold" fill="#222" text-anchor="middle" >**</text>
<text x="557.69" y="392.80" font-size="13" font-weight="bold" fill="#222" text-anchor="middle" >***</text>
<text x="582.82" y="372.60" font-size="13" font-weight="bold" fill="#222" text-anchor="middle" >***</text>
<text x="595.39" y="348.80" font-size="13" font-weight="bold" fill="#222" text-anchor="middle" >***</text>
<path d="M613.00 332H627.50" stroke="#9c9c9c" stroke-width="1.5" stroke-dasharray="3.2 2.6"/>
<rect x="618.10" y="329.8" width="4.4" height="4.4" fill="#9c9c9c"/>
<path d="M613.00 350.4H627.50" stroke="#111" stroke-width="1.5" stroke-dasharray="3.2 2.6"/>
<circle cx="620.30" cy="350.4" r="2.2" fill="#111"/>
<text x="636.30" y="336.20" font-size="11.4" font-weight="normal" fill="#333" text-anchor="start" >Control</text>
<text x="636.30" y="354.60" font-size="11.4" font-weight="normal" fill="#333" text-anchor="start" textLength="35.2" lengthAdjust="spacingAndGlyphs">TH-302</text>
<text x="10.20" y="561.50" font-size="14.4" font-weight="bold" fill="#000" text-anchor="start" >D</text>
<path d="M64.30 660.20H383.7" stroke="#c8c8c8" stroke-width="0.9" stroke-dasharray="1 1"/>
<path d="M64.30 589.3V730.3" stroke="#111" stroke-width="1.6"/>
<path d="M58.00 590.20H64.30" stroke="#111" stroke-width="1.6"/>
<text x="56.30" y="594.10" font-size="10.8" font-weight="bold" fill="#1a1a1a" text-anchor="end" >40</text>
<path d="M58.00 625.20H64.30" stroke="#111" stroke-width="1.6"/>
<text x="56.30" y="629.10" font-size="10.8" font-weight="bold" fill="#1a1a1a" text-anchor="end" >20</text>
<path d="M58.00 660.20H64.30" stroke="#111" stroke-width="1.6"/>
<text x="56.30" y="664.10" font-size="10.8" font-weight="bold" fill="#1a1a1a" text-anchor="end" >0</text>
<path d="M58.00 695.20H64.30" stroke="#111" stroke-width="1.6"/>
<text x="56.30" y="699.10" font-size="10.8" font-weight="bold" fill="#1a1a1a" text-anchor="end" >-20</text>
<path d="M58.00 730.20H64.30" stroke="#111" stroke-width="1.6"/>
<text x="56.30" y="734.10" font-size="10.8" font-weight="bold" fill="#1a1a1a" text-anchor="end" >-40</text>
<text transform="translate(31.4,658.8) rotate(-90)" font-size="10.3" font-weight="bold" fill="#1a1a1a" text-anchor="middle">Body weight change (%)</text>
<path d="M68.00 660.20V637.80H72.00V660.20" fill="none" stroke="#b3b3b3" stroke-width="2"/>
<rect x="67.40" y="637.10" width="5.2" height="2.6" fill="#b3b3b3"/>
<rect x="68.10" y="635.30" width="3.8" height="2.2" fill="#bdbdbd"/>
<text x="70.00" y="667.70" font-size="5.9" font-weight="bold" fill="#333" text-anchor="middle" >A</text>
<path d="M77.12 660.20V635.60H81.12V660.20" fill="none" stroke="#b3b3b3" stroke-width="2"/>
<rect x="76.52" y="634.90" width="5.2" height="2.6" fill="#b3b3b3"/>
<rect x="77.22" y="633.10" width="3.8" height="2.2" fill="#bdbdbd"/>
<text x="79.12" y="667.70" font-size="5.9" font-weight="bold" fill="#333" text-anchor="middle" >B</text>
<path d="M86.24 660.20V624.70H90.24V660.20" fill="none" stroke="#b3b3b3" stroke-width="2"/>
<rect x="85.64" y="624.00" width="5.2" height="2.6" fill="#b3b3b3"/>
<rect x="86.34" y="622.20" width="3.8" height="2.2" fill="#bdbdbd"/>
<text x="88.24" y="667.70" font-size="5.9" font-weight="bold" fill="#333" text-anchor="middle" >C</text>
<path d="M95.36 660.20V628.60H99.36V660.20" fill="none" stroke="#b3b3b3" stroke-width="2"/>
<rect x="94.76" y="627.90" width="5.2" height="2.6" fill="#b3b3b3"/>
<rect x="95.46" y="626.10" width="3.8" height="2.2" fill="#bdbdbd"/>
<text x="97.36" y="667.70" font-size="5.9" font-weight="bold" fill="#333" text-anchor="middle" >D</text>
<path d="M104.48 660.20V632.70H108.48V660.20" fill="none" stroke="#b3b3b3" stroke-width="2"/>
<rect x="103.88" y="632.00" width="5.2" height="2.6" fill="#b3b3b3"/>
<rect x="104.58" y="630.20" width="3.8" height="2.2" fill="#bdbdbd"/>
<text x="106.48" y="667.70" font-size="5.9" font-weight="bold" fill="#333" text-anchor="middle" >E</text>
<path d="M113.60 660.20V639.30H117.60V660.20" fill="none" stroke="#b3b3b3" stroke-width="2"/>
<rect x="113.00" y="638.60" width="5.2" height="2.6" fill="#b3b3b3"/>
<rect x="113.70" y="636.80" width="3.8" height="2.2" fill="#bdbdbd"/>
<text x="115.60" y="667.70" font-size="5.9" font-weight="bold" fill="#333" text-anchor="middle" >F</text>
<path d="M122.72 660.20V633.50H126.72V660.20" fill="none" stroke="#b3b3b3" stroke-width="2"/>
<rect x="122.12" y="632.80" width="5.2" height="2.6" fill="#b3b3b3"/>
<rect x="122.82" y="631.00" width="3.8" height="2.2" fill="#bdbdbd"/>
<text x="124.72" y="667.70" font-size="5.9" font-weight="bold" fill="#333" text-anchor="middle" >G</text>
<path d="M131.84 660.20V633.50H135.84V660.20" fill="none" stroke="#b3b3b3" stroke-width="2"/>
<rect x="131.24" y="632.80" width="5.2" height="2.6" fill="#b3b3b3"/>
<rect x="131.94" y="631.00" width="3.8" height="2.2" fill="#bdbdbd"/>
<text x="133.84" y="667.70" font-size="5.9" font-weight="bold" fill="#333" text-anchor="middle" >H</text>
<path d="M140.96 660.20V635.30H144.96V660.20" fill="none" stroke="#b3b3b3" stroke-width="2"/>
<rect x="140.36" y="634.60" width="5.2" height="2.6" fill="#b3b3b3"/>
<rect x="141.06" y="632.80" width="3.8" height="2.2" fill="#bdbdbd"/>
<text x="142.96" y="667.70" font-size="5.9" font-weight="bold" fill="#333" text-anchor="middle" >I</text>
<path d="M150.08 660.20V632.00H154.08V660.20" fill="none" stroke="#b3b3b3" stroke-width="2"/>
<rect x="149.48" y="631.30" width="5.2" height="2.6" fill="#b3b3b3"/>
<rect x="150.18" y="629.50" width="3.8" height="2.2" fill="#bdbdbd"/>
<text x="152.08" y="667.70" font-size="5.9" font-weight="bold" fill="#333" text-anchor="middle" >J</text>
<path d="M159.20 660.20V631.70H163.20V660.20" fill="none" stroke="#b3b3b3" stroke-width="2"/>
<rect x="158.60" y="631.00" width="5.2" height="2.6" fill="#b3b3b3"/>
<rect x="159.30" y="629.20" width="3.8" height="2.2" fill="#bdbdbd"/>
<text x="161.20" y="667.70" font-size="5.9" font-weight="bold" fill="#333" text-anchor="middle" >K</text>
<path d="M168.32 660.20V631.70H172.32V660.20" fill="none" stroke="#b3b3b3" stroke-width="2"/>
<rect x="167.72" y="631.00" width="5.2" height="2.6" fill="#b3b3b3"/>
<rect x="168.42" y="629.20" width="3.8" height="2.2" fill="#bdbdbd"/>
<text x="170.32" y="667.70" font-size="5.9" font-weight="bold" fill="#333" text-anchor="middle" >L</text>
<path d="M177.44 660.20V635.80H181.44V660.20" fill="none" stroke="#b3b3b3" stroke-width="2"/>
<rect x="176.84" y="635.10" width="5.2" height="2.6" fill="#b3b3b3"/>
<rect x="177.54" y="633.30" width="3.8" height="2.2" fill="#bdbdbd"/>
<text x="179.44" y="667.70" font-size="5.9" font-weight="bold" fill="#333" text-anchor="middle" >M</text>
<path d="M186.56 660.20V629.90H190.56V660.20" fill="none" stroke="#b3b3b3" stroke-width="2"/>
<rect x="185.96" y="629.20" width="5.2" height="2.6" fill="#b3b3b3"/>
<rect x="186.66" y="627.40" width="3.8" height="2.2" fill="#bdbdbd"/>
<text x="188.56" y="667.70" font-size="5.9" font-weight="bold" fill="#333" text-anchor="middle" >N</text>
<path d="M195.68 660.20V632.70H199.68V660.20" fill="none" stroke="#b3b3b3" stroke-width="2"/>
<rect x="195.08" y="632.00" width="5.2" height="2.6" fill="#b3b3b3"/>
<rect x="195.78" y="630.20" width="3.8" height="2.2" fill="#bdbdbd"/>
<text x="197.68" y="667.70" font-size="5.9" font-weight="bold" fill="#333" text-anchor="middle" >O</text>
<path d="M204.80 660.20V632.70H208.80V660.20" fill="none" stroke="#b3b3b3" stroke-width="2"/>
<rect x="204.20" y="632.00" width="5.2" height="2.6" fill="#b3b3b3"/>
<rect x="204.90" y="630.20" width="3.8" height="2.2" fill="#bdbdbd"/>
<text x="206.80" y="667.70" font-size="5.9" font-weight="bold" fill="#333" text-anchor="middle" >P</text>
<path d="M213.92 660.20V627.00H217.92V660.20" fill="none" stroke="#b3b3b3" stroke-width="2"/>
<rect x="213.32" y="626.30" width="5.2" height="2.6" fill="#b3b3b3"/>
<rect x="214.02" y="624.50" width="3.8" height="2.2" fill="#bdbdbd"/>
<text x="215.92" y="667.70" font-size="5.9" font-weight="bold" fill="#333" text-anchor="middle" >Q</text>
<path d="M228.90 660.20V714.70H232.90V660.20" fill="none" stroke="#000" stroke-width="2"/>
<circle cx="230.90" cy="715.00" r="2.7" fill="#000"/>
<text x="230.90" y="657.90" font-size="5.9" font-weight="bold" fill="#111" text-anchor="middle" >A'</text>
<path d="M238.04 660.20V687.50H242.04V660.20" fill="none" stroke="#000" stroke-width="2"/>
<circle cx="240.04" cy="687.80" r="2.7" fill="#000"/>
<text x="240.04" y="657.90" font-size="5.9" font-weight="bold" fill="#111" text-anchor="middle" >B'</text>
<path d="M247.17 660.20V685.90H251.17V660.20" fill="none" stroke="#000" stroke-width="2"/>
<circle cx="249.17" cy="686.20" r="2.7" fill="#000"/>
<text x="249.17" y="657.90" font-size="5.9" font-weight="bold" fill="#111" text-anchor="middle" >C'</text>
<path d="M256.31 660.20V709.00H260.31V660.20" fill="none" stroke="#000" stroke-width="2"/>
<circle cx="258.31" cy="709.30" r="2.7" fill="#000"/>
<text x="258.31" y="657.90" font-size="5.9" font-weight="bold" fill="#111" text-anchor="middle" >D'</text>
<path d="M265.44 660.20V687.50H269.44V660.20" fill="none" stroke="#000" stroke-width="2"/>
<circle cx="267.44" cy="687.80" r="2.7" fill="#000"/>
<text x="267.44" y="657.90" font-size="5.9" font-weight="bold" fill="#111" text-anchor="middle" >E'</text>
<path d="M274.58 660.20V686.80H278.58V660.20" fill="none" stroke="#000" stroke-width="2"/>
<circle cx="276.58" cy="687.10" r="2.7" fill="#000"/>
<text x="276.58" y="657.90" font-size="5.9" font-weight="bold" fill="#111" text-anchor="middle" >F'</text>
<path d="M283.72 660.20V702.90H287.72V660.20" fill="none" stroke="#000" stroke-width="2"/>
<circle cx="285.72" cy="703.20" r="2.7" fill="#000"/>
<text x="285.72" y="657.90" font-size="5.9" font-weight="bold" fill="#111" text-anchor="middle" >G'</text>
<path d="M292.85 660.20V702.90H296.85V660.20" fill="none" stroke="#000" stroke-width="2"/>
<circle cx="294.85" cy="703.20" r="2.7" fill="#000"/>
<text x="294.85" y="657.90" font-size="5.9" font-weight="bold" fill="#111" text-anchor="middle" >H'</text>
<path d="M301.99 660.20V711.70H305.99V660.20" fill="none" stroke="#000" stroke-width="2"/>
<circle cx="303.99" cy="712.00" r="2.7" fill="#000"/>
<text x="303.99" y="657.90" font-size="5.9" font-weight="bold" fill="#111" text-anchor="middle" >I'</text>
<path d="M311.12 660.20V716.90H315.12V660.20" fill="none" stroke="#000" stroke-width="2"/>
<circle cx="313.12" cy="717.20" r="2.7" fill="#000"/>
<text x="313.12" y="657.90" font-size="5.9" font-weight="bold" fill="#111" text-anchor="middle" >J'</text>
<path d="M320.26 660.20V678.90H324.26V660.20" fill="none" stroke="#000" stroke-width="2"/>
<circle cx="322.26" cy="679.20" r="2.7" fill="#000"/>
<text x="322.26" y="657.90" font-size="5.9" font-weight="bold" fill="#111" text-anchor="middle" >K'</text>
<path d="M329.40 660.20V698.80H333.40V660.20" fill="none" stroke="#000" stroke-width="2"/>
<circle cx="331.40" cy="699.10" r="2.7" fill="#000"/>
<text x="331.40" y="657.90" font-size="5.9" font-weight="bold" fill="#111" text-anchor="middle" >L'</text>
<path d="M70.1 603.4V615.2M70.1 609.2H215.6M215.6 603.4V615.2" stroke="#000" stroke-width="1.8" fill="none"/>
<path d="M230.9 639.5V651M230.9 644.7H331.4M331.4 639.5V651" stroke="#000" stroke-width="1.8" fill="none"/>
<path d="M142.5 609.2V593.1H280.9V644.7" stroke="#000" stroke-width="1.8" fill="none"/>
<path d="M199.05 579.90L199.05 586.30M196.28 581.50L201.82 584.70M201.82 581.50L196.28 584.70" stroke="#000" stroke-width="1.75" fill="none"/>
<path d="M207.38 579.90L207.38 586.30M204.61 581.50L210.15 584.70M210.15 581.50L204.61 584.70" stroke="#000" stroke-width="1.75" fill="none"/>
<path d="M215.71 579.90L215.71 586.30M212.94 581.50L218.48 584.70M218.48 581.50L212.94 584.70" stroke="#000" stroke-width="1.75" fill="none"/>
<path d="M224.04 579.90L224.04 586.30M221.27 581.50L226.81 584.70M226.81 581.50L221.27 584.70" stroke="#000" stroke-width="1.75" fill="none"/>
<rect x="359.2" y="597.6" width="4.2" height="4.2" fill="#b3b3b3"/>
<circle cx="361.3" cy="618.8" r="2.2" fill="#000"/>
<text x="374.30" y="604.30" font-size="11.5" font-weight="normal" fill="#333" text-anchor="start" >Control</text>
<text x="374.30" y="623.10" font-size="11.5" font-weight="normal" fill="#333" text-anchor="start" textLength="36" lengthAdjust="spacingAndGlyphs">TH-302</text>
</svg></body></html>
